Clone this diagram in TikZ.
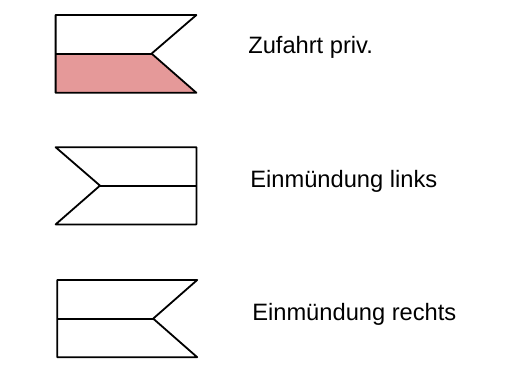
\documentclass[tikz,border=0pt]{standalone}
\usepackage{fontspec}
\setmainfont{Liberation Sans}
\definecolor{privfill}{RGB}{229,153,153}

\begin{document}
\begin{tikzpicture}

        \tikzstyle{outline}=[line width = 0.45mm, line join=round, black]
        \tikzstyle{roadlabel}=[anchor=west, inner sep=0pt, font=\fontsize{16.85}{20}\selectfont]

        \useasboundingbox (0, 0) rectangle (12.625, -9.325);

        %% Zufahrt
        \fill[privfill] (1.39, -1.34) -- (3.79, -1.34) -- (4.91, -2.32) -- (1.39, -2.32) -- cycle;
        \draw[outline] (4.91, -0.375) -- (1.39, -0.375) -- (1.39, -2.32) -- (4.91, -2.32) -- (3.79, -1.34) -- cycle;
        \draw[outline] (1.39, -1.34) -- (3.79, -1.34);
        \node[roadlabel] (zufahrt) at (6.2, -1.19) {Zufahrt priv.};

        %% Einmuendung links
        \draw[outline] (1.39, -3.68) -- (4.91, -3.68) -- (4.91, -5.61) -- (1.39, -5.61) -- (2.50, -4.64) -- cycle;
        \draw[outline] (2.50, -4.645) -- (4.91, -4.645);
        \node[roadlabel] (links) at (6.25, -4.54) {Einmündung links};

        %% Einmuendung rechts
        \draw[outline] (4.93, -7.0) -- (1.43, -7.0) -- (1.43, -8.93) -- (4.93, -8.93) -- (3.83, -7.965) -- cycle;
        \draw[outline] (1.43, -7.965) -- (3.83, -7.965);
        \node[roadlabel] (rechts) at (6.30, -7.87) {Einmündung rechts};

\end{tikzpicture}
\end{document}
